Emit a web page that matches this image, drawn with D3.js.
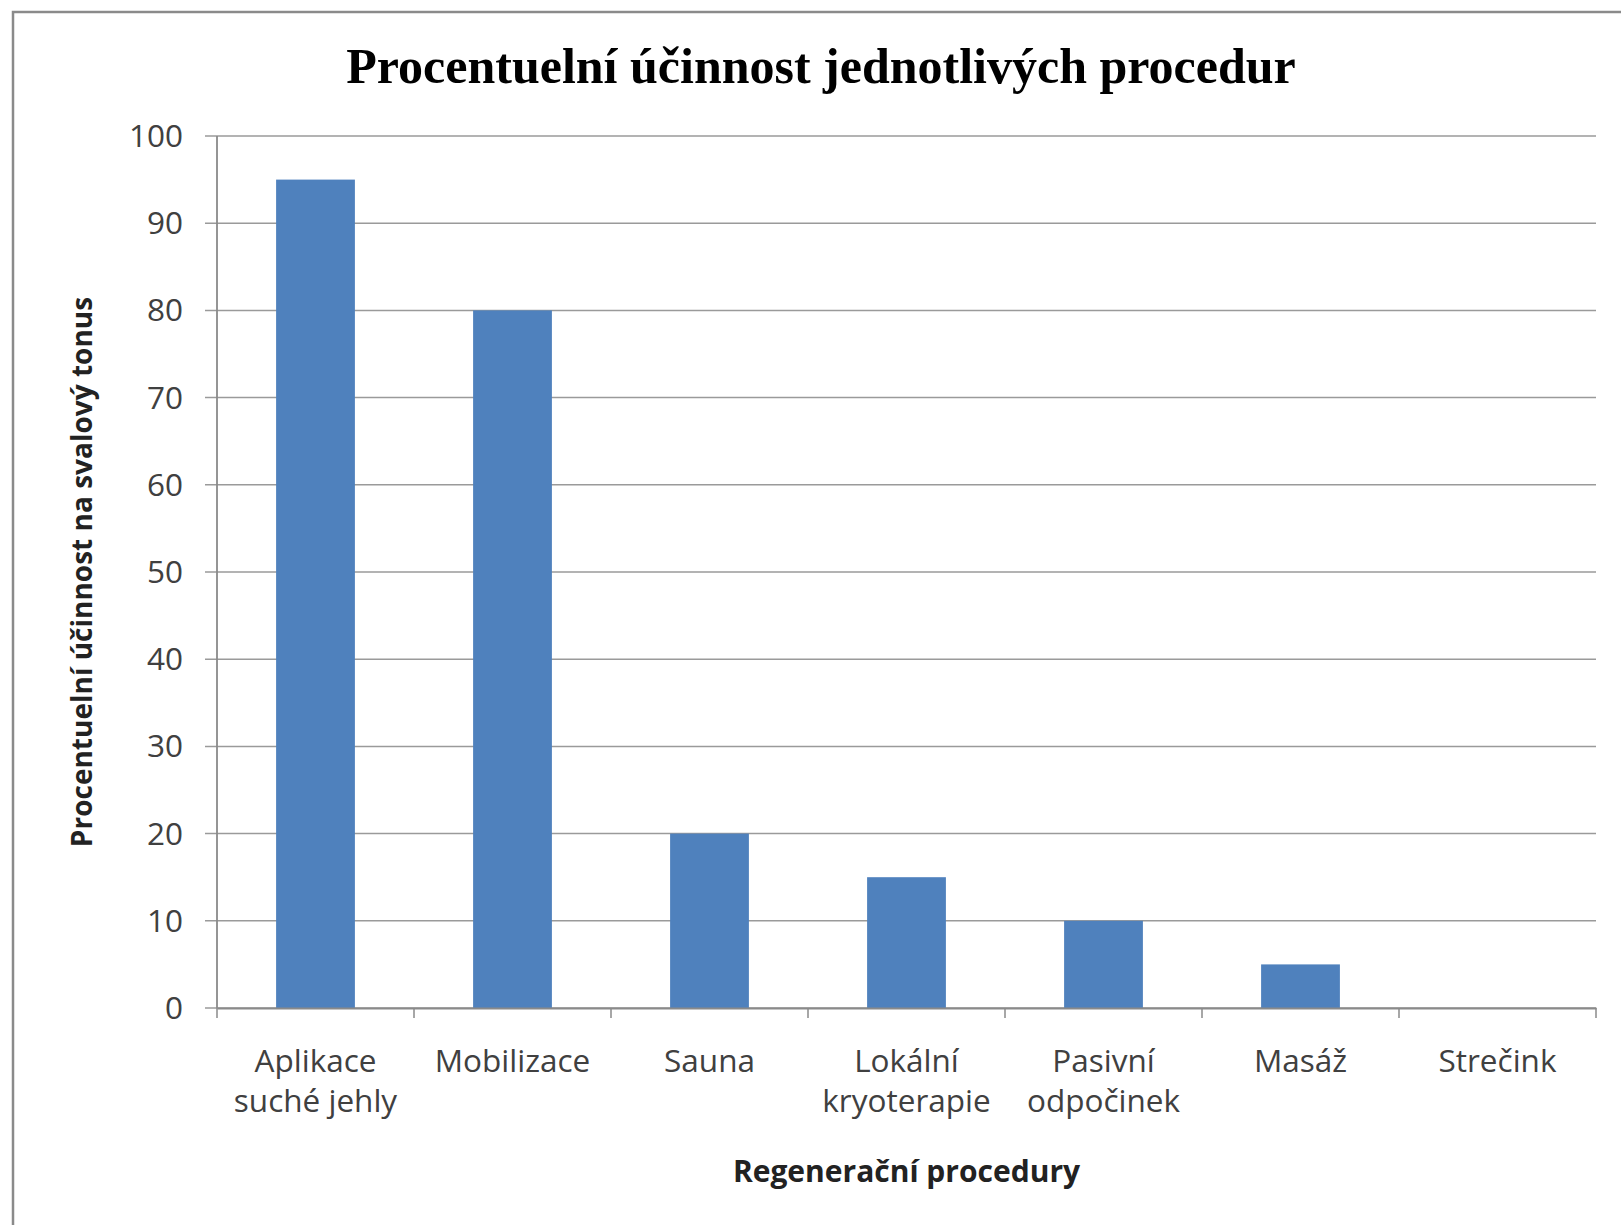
<!DOCTYPE html>
<html>
<head>
<meta charset="utf-8">
<script src="https://cdn.jsdelivr.net/npm/d3@7"></script>
<style>
  html, body { margin: 0; padding: 0; background: #fff; }
  svg { display: block; }
</style>
</head>
<body>
<script>
const categories = [["Aplikace", "suché jehly"], ["Mobilizace"], ["Sauna"], ["Lokální", "kryoterapie"], ["Pasivní", "odpočinek"], ["Masáž"], ["Strečink"]];
const values = [95, 80, 20, 15, 10, 5, 0];
const yTicks = [0, 10, 20, 30, 40, 50, 60, 70, 80, 90, 100];
const chartTitle = "Procentuelní účinnost jednotlivých procedur";
const xTitle = "Regenerační procedury";
const yTitle = "Procentuelní účinnost na svalový tonus";

(function () {
const W = 1621, H = 1225;
const pLeft = 217, pRight = 1596, pTop = 136, pBottom = 1008;
const sans = "'Open Sans', Lato, sans-serif";

const svg = d3.select("body").append("svg").attr("width", W).attr("height", H);

// outer border
svg.append("rect").attr("x", 13).attr("y", 12).attr("width", W + 20).attr("height", H + 20)
  .attr("fill", "none").attr("stroke", "#8a8a8a").attr("stroke-width", 2.5);

const keys = categories.map((c, i) => i);
const x = d3.scaleBand().domain(keys).range([pLeft, pRight]).paddingInner(0.6).paddingOuter(0.3);
const xCat = d3.scaleBand().domain(keys).range([pLeft, pRight]).padding(0);
const y = d3.scaleLinear().domain([0, 100]).range([pBottom, pTop]);

// gridlines + y ticks
svg.append("g").selectAll("line").data(yTicks).join("line")
  .attr("x1", pLeft - 12).attr("x2", pRight)
  .attr("y1", d => y(d)).attr("y2", d => y(d))
  .attr("stroke", "#9a9a9a").attr("stroke-width", 1.5);

// y axis line
svg.append("line").attr("x1", pLeft).attr("x2", pLeft).attr("y1", y(100)).attr("y2", y(0))
  .attr("stroke", "#8a8a8a").attr("stroke-width", 1.8);

// bars
svg.append("g").selectAll("rect").data(values).join("rect")
  .attr("x", (d, i) => x(i)).attr("width", x.bandwidth())
  .attr("y", d => y(d)).attr("height", d => y(0) - y(d))
  .attr("fill", "#4f81bd");

// x axis
const xAxis = d3.axisBottom(xCat).tickSize(0).tickFormat("");
const gx = svg.append("g").attr("transform", `translate(0,${pBottom})`).call(xAxis);
gx.select(".domain").attr("stroke", "#8a8a8a").attr("stroke-width", 2);
const bounds = keys.map(k => xCat(k)).concat([pRight]);
svg.append("g").selectAll("line").data(bounds).join("line")
  .attr("x1", d => d).attr("x2", d => d).attr("y1", pBottom).attr("y2", pBottom + 10)
  .attr("stroke", "#8a8a8a").attr("stroke-width", 1.5);

// y tick labels
svg.append("g").selectAll("text").data(yTicks).join("text")
  .attr("x", 183).attr("y", d => y(d) + 11)
  .attr("text-anchor", "end")
  .attr("font-family", sans).attr("font-size", 31.5).attr("fill", "#404040")
  .text(d => d);

// x category labels
const lab = svg.append("g").selectAll("text").data(categories).join("text")
  .attr("x", (d, i) => xCat(i) + xCat.bandwidth() / 2)
  .attr("y", 1072)
  .attr("text-anchor", "middle")
  .attr("font-family", sans).attr("font-size", 31.5).attr("fill", "#404040");
lab.selectAll("tspan").data(d => d).join("tspan")
  .attr("x", function() { return d3.select(this.parentNode).attr("x"); })
  .attr("dy", (d, i) => i === 0 ? 0 : 40)
  .text(d => d);

// title
svg.append("text").attr("x", 821).attr("y", 83).attr("text-anchor", "middle")
  .attr("font-family", "'Liberation Serif', 'Times New Roman', serif").attr("font-weight", "bold")
  .attr("font-size", 50).attr("fill", "#000").text(chartTitle);

// x title
svg.append("text").attr("x", (pLeft + pRight) / 2).attr("y", 1182).attr("text-anchor", "middle")
  .attr("font-family", sans).attr("font-weight", "bold").attr("font-size", 30).attr("fill", "#222")
  .text(xTitle);

// y title
svg.append("text").attr("transform", `translate(92,${(pTop + pBottom) / 2}) rotate(-90)`)
  .attr("text-anchor", "middle")
  .attr("font-family", sans).attr("font-weight", "bold").attr("font-size", 28).attr("fill", "#222")
  .text(yTitle);
})();
</script>
</body>
</html>
